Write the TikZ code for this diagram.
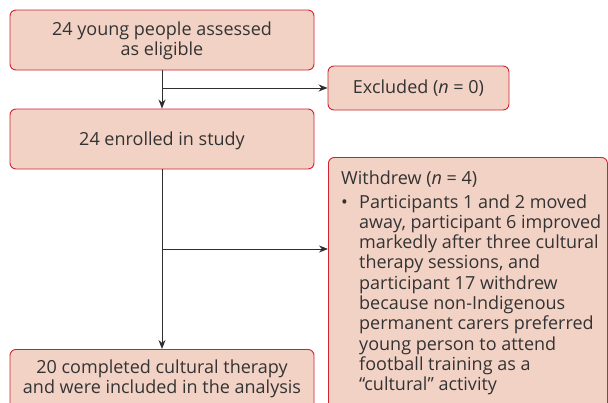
\documentclass[tikz,border=0pt]{standalone}
\usepackage{fontspec}
\setmainfont{Open Sans}
\usetikzlibrary{arrows.meta}
\definecolor{boxfill}{HTML}{F2D2C5}
\definecolor{boxline}{HTML}{D1232F}
\definecolor{txt}{HTML}{333333}
\definecolor{arrcol}{HTML}{2E2E2E}
\tikzset{
  box/.style={draw=boxline, fill=boxfill, line width=0.9pt, rounded corners=6pt, inner sep=0pt},
  lbl/.style={text=txt, font=\fontsize{18}{20.3}\selectfont, align=center, inner sep=0pt},
  arr/.style={draw=arrcol, line width=1pt, -{Stealth[length=9pt,width=7pt]}},
}
\begin{document}
\begin{tikzpicture}[x=1pt,y=-1pt]
\useasboundingbox (0,0) rectangle (608,402);
\clip (0,0) rectangle (608,402);
\node[box, minimum width=304pt, minimum height=60pt] (b1) at (162,40) {};
\node[lbl, anchor=base] (t1) at (162,55.3) {24 young people assessed\\as eligible};
\node[box, minimum width=304pt, minimum height=60pt] (b2) at (162,139) {};
\node[lbl, anchor=base] (t2) at (162,145) {24 enrolled in study};
\node[box, minimum width=181pt, minimum height=44pt] (ex) at (418.5,88) {};
\node[lbl, anchor=base] (tex) at (418.5,93.5) {Excluded (\textit{n} = 0)};
\node[box, minimum width=279pt, minimum height=280pt, anchor=north west] (wd) at (328,157) {};
\node[lbl, anchor=base west] (thd) at (341,184) {Withdrew (\textit{n} = 4)};
\node[lbl, anchor=base west] (bul) at (341,208) {\textbullet};
\node[lbl, anchor=base west, align=left] (twd) at (359,390.7) {Participants 1 and 2 moved\\ away, participant 6 improved\\ markedly after three cultural\\ therapy sessions, and\\ participant 17 withdrew\\ because non-Indigenous\\ permanent carers preferred\\ young person to attend\\ football training as a\\ “cultural” activity};
\node[box, minimum width=304pt, minimum height=80pt, anchor=north] (b3) at (162,349) {};
\node[lbl, anchor=base] (t3) at (162,393.3) {20 completed cultural therapy\\and were included in the analysis};
\draw[arr] (b1.south) -- (b2.north);
\draw[arr] (b1.south |- ex.west) -- (ex.west);
\coordinate (wj) at (162,249);
\draw[arr] (b2.south) -- (b3.north);
\draw[arr] (wj) -- (wj -| wd.west);
\end{tikzpicture}
\end{document}
